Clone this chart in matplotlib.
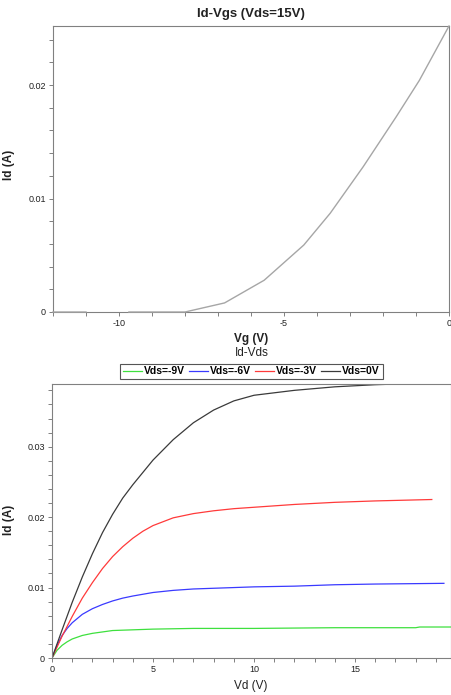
import numpy as np
import matplotlib
matplotlib.use("Agg")
import matplotlib.pyplot as plt
from matplotlib.ticker import MultipleLocator, FuncFormatter

plt.rcParams['font.family'] = ['Liberation Sans', 'DejaVu Sans']

# Id-Vgs transfer curve (Vds = 15V), gap in the flat part as in the source
vg = [-12, -11, np.nan, -9.7, -8, -6.8, -5.6, -4.4, -3.6, -2.6, -1.6, -0.9, 0]
id_vg = [0, 0, np.nan, 0, 0, 0.0008, 0.0028, 0.0059, 0.0087, 0.0128, 0.0172, 0.0204, 0.0252]

# Id-Vds output curves
vd_m9 = [0, 0.25, 0.5, 0.75, 1, 1.5, 2, 2.5, 3, 4, 5, 7, 10, 14, 18, 18.2, 19.8]
id_m9 = [0, 0.0011, 0.0018, 0.0023, 0.0027, 0.0032, 0.0035, 0.0037, 0.0039, 0.0040,
         0.0041, 0.0042, 0.0042, 0.0043, 0.0043, 0.0044, 0.0044]

vd_m6 = [0, 0.25, 0.5, 0.75, 1, 1.25, 1.5, 2, 2.5, 3, 3.5, 4, 5, 6, 7, 8, 10, 12, 14, 16, 19.4]
id_m6 = [0, 0.0018, 0.0032, 0.0042, 0.0050, 0.0056, 0.0062, 0.0070, 0.0076, 0.0081,
         0.0085, 0.0088, 0.0093, 0.0096, 0.0098, 0.0099, 0.0101, 0.0102, 0.0104, 0.0105, 0.0106]

vd_m3 = [0, 0.5, 1, 1.5, 2, 2.5, 3, 3.5, 4, 4.5, 5, 6, 7, 8, 9, 10, 12, 14, 16, 18.8]
id_m3 = [0, 0.0031, 0.0059, 0.0085, 0.0107, 0.0127, 0.0144, 0.0158, 0.0170, 0.0180,
         0.0188, 0.0199, 0.0205, 0.0209, 0.0212, 0.0214, 0.0218, 0.0221, 0.0223, 0.0225]

vd_0 = [0, 0.5, 1, 1.5, 2, 2.5, 3, 3.5, 4, 5, 6, 7, 8, 9, 10, 12, 14, 16, 17.1]
id_0 = [0, 0.0040, 0.0079, 0.0115, 0.0148, 0.0178, 0.0204, 0.0227, 0.0246, 0.0281,
        0.0310, 0.0334, 0.0352, 0.0365, 0.0373, 0.0380, 0.0385, 0.0388, 0.0389]

curves = [
    (vd_m9, id_m9, 'Vds=-9V', '#3ee03e'),
    (vd_m6, id_m6, 'Vds=-6V', '#3a3aff'),
    (vd_m3, id_m3, 'Vds=-3V', '#ff3a3a'),
    (vd_0, id_0, 'Vds=0V', '#3a3a3a'),
]

W, H = 451, 695
fig = plt.figure(figsize=(W / 100, H / 100), dpi=100)


def px_axes(x0, y0, x1, y1):
    return fig.add_axes([x0 / W, 1 - y1 / H, (x1 - x0) / W, (y1 - y0) / H])


def style(ax):
    for s in ax.spines.values():
        s.set_color('#808080')
        s.set_linewidth(0.8)
    ax.tick_params(which='both', direction='out', length=3, width=0.7,
                   color='#808080', labelsize=6.5, labelcolor='#222222',
                   top=False, right=False, pad=2)
    ax.yaxis.set_major_formatter(FuncFormatter(lambda v, p: '%g' % round(v, 4)))
    ax.xaxis.set_major_formatter(FuncFormatter(lambda v, p: '%g' % round(v, 4)))


# top plot
ax1 = px_axes(53, 26, 449, 312)
ax1.plot(vg, id_vg, color='#a6a6a6', lw=1.0, clip_on=False, zorder=3)
ax1.set_xlim(-12, 0)
ax1.set_ylim(0, 0.0252)
ax1.xaxis.set_major_locator(MultipleLocator(5))
ax1.xaxis.set_minor_locator(MultipleLocator(1))
ax1.yaxis.set_major_locator(MultipleLocator(0.01))
ax1.yaxis.set_minor_locator(MultipleLocator(0.002))
style(ax1)

fig.text(251 / W, 1 - 14 / H, 'Id-Vgs (Vds=15V)', ha='center', va='center',
         fontsize=9.5, fontweight='bold', color='#222222')
fig.text(251 / W, 1 - 339 / H, 'Vg (V)', ha='center', va='center',
         fontsize=8.5, fontweight='bold', color='#222222')
fig.text(9 / W, 1 - 165 / H, 'Id (A)', ha='center', va='center', rotation=90,
         fontsize=8.5, fontweight='bold', color='#222222')

# bottom plot
ax2 = px_axes(52, 384, 451, 658)
for x, y, lab, c in curves:
    ax2.plot(x, y, color=c, lw=0.9, label=lab)
ax2.set_xlim(0, 19.75)
ax2.set_ylim(0, 0.0389)
ax2.xaxis.set_major_locator(MultipleLocator(5))
ax2.xaxis.set_minor_locator(MultipleLocator(1))
ax2.yaxis.set_major_locator(MultipleLocator(0.01))
ax2.yaxis.set_minor_locator(MultipleLocator(0.002))
style(ax2)

fig.text(252 / W, 1 - 353 / H, 'Id-Vds', ha='center', va='center',
         fontsize=8.5, color='#222222')
fig.text(251 / W, 1 - 686 / H, 'Vd (V)', ha='center', va='center',
         fontsize=8.5, color='#222222')
fig.text(9 / W, 1 - 520 / H, 'Id (A)', ha='center', va='center', rotation=90,
         fontsize=8.5, fontweight='bold', color='#222222')

handles, labels = ax2.get_legend_handles_labels()
leg = fig.legend(handles, labels, loc='center', ncol=4,
                 bbox_to_anchor=(251.5 / W, 1 - 371.5 / H),
                 prop={'size': 7.5, 'weight': 'bold'}, handlelength=1.8,
                 handletextpad=0.25, columnspacing=0.35, borderpad=0.25,
                 borderaxespad=0, fancybox=False, framealpha=1)
leg.get_frame().set_edgecolor('#555555')
leg.get_frame().set_linewidth(0.8)

fig.savefig('out.png', dpi=100)
